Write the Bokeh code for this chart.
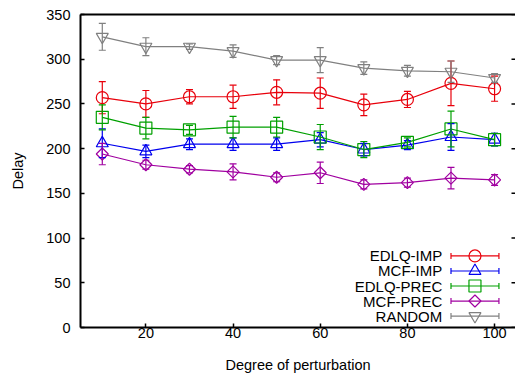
import math
from bokeh.plotting import figure
from bokeh.models import Range1d, LinearAxis, FixedTicker, Whisker, TeeHead, ColumnDataSource
from bokeh.embed import file_html
from bokeh.resources import INLINE
from bokeh.core.properties import value

# ---------------- data ----------------
x_values = [10, 20, 30, 40, 50, 60, 70, 80, 90, 100]
x_ticks = [20, 40, 60, 80, 100]
y_ticks = [0, 50, 100, 150, 200, 250, 300, 350]

series_names = ["EDLQ-IMP", "MCF-IMP", "EDLQ-PREC", "MCF-PREC", "RANDOM"]

edlq_imp = [257, 250, 258, 258, 263, 262, 249, 255, 273, 267]
edlq_imp_err = [18, 15, 8, 13, 14, 17, 12, 9, 25, 14]

mcf_imp = [206, 197, 205, 205, 205, 210, 199, 204, 213, 210]
mcf_imp_err = [16, 7, 6, 7, 7, 8, 7, 5, 15, 7]

edlq_prec = [235, 223, 221, 224, 224, 213, 199, 207, 222, 210]
edlq_prec_err = [14, 12, 5, 12, 11, 14, 9, 5, 20, 7]

mcf_prec = [194, 182, 177, 174, 168, 173, 160, 162, 167, 165]
mcf_prec_err = [12, 5, 4, 9, 5, 12, 5, 5, 12, 6]

random_vals = [325, 314, 314, 309, 299, 299, 290, 287, 286, 279]
random_err = [15, 10, 3, 7, 5, 14, 7, 6, 12, 5]

series_values = [edlq_imp, mcf_imp, edlq_prec, mcf_prec, random_vals]
series_errors = [edlq_imp_err, mcf_imp_err, edlq_prec_err, mcf_prec_err, random_err]
series_colors = ["#e8000b", "#0000ee", "#00a000", "#a000a0", "#808080"]
# the diamond is a square turned by 45 degrees, as gnuplot draws it
series_markers = ["circle", "triangle", "square", "square", "inverted_triangle"]
marker_angles = [0, 0, 0, math.pi / 4, 0]
marker_sizes = [12, 12, 12, 8.5, 12]

FONT = "Liberation Sans"
FS = "14.5px"

p = figure(width=515, height=379, output_backend="svg", toolbar_location=None,
           x_range=Range1d(5, 104.8), y_range=Range1d(0, 350),
           min_border_left=80, min_border_right=0, min_border_top=14, min_border_bottom=52,
           x_axis_label="Degree of perturbation", y_axis_label="Delay")
p.grid.visible = False
p.outline_line_color = None
p.background_fill_color = "white"
p.border_fill_color = "white"

for ax in (p.xaxis[0], p.yaxis[0]):
    ax.axis_line_width = 2
    ax.axis_line_color = "black"
    ax.major_tick_in = 4
    ax.major_tick_out = 0
    ax.major_tick_line_width = 1.5
    ax.minor_tick_in = 0
    ax.minor_tick_out = 0
    ax.major_label_text_font = FONT
    ax.major_label_text_font_size = FS
    ax.major_label_text_color = "black"
    ax.axis_label_text_font = FONT
    ax.axis_label_text_font_size = FS
    ax.axis_label_text_font_style = "normal"
    ax.axis_label_text_color = "black"

p.xaxis[0].ticker = FixedTicker(ticks=x_ticks)
p.yaxis[0].ticker = FixedTicker(ticks=y_ticks)
p.xaxis[0].major_label_standoff = 0
p.xaxis[0].axis_label_standoff = 16
p.yaxis[0].major_label_standoff = 10
p.yaxis[0].axis_label_standoff = 17

top_axis = LinearAxis(ticker=FixedTicker(ticks=[]),
                      major_tick_in=0, major_tick_out=0, minor_tick_in=0, minor_tick_out=0,
                      major_label_standoff=0, axis_line_width=2, axis_line_color="black")
p.add_layout(top_axis, "above")

# mirrored inward ticks on the right-hand side (no border line, no labels)
p.rect(x=[p.x_range.end] * len(y_ticks), y=y_ticks, width=8, height=1.5,
       width_units="screen", height_units="screen",
       fill_color="black", line_color=None)

for name, vals, errs, col, mk, ma, ms in zip(series_names, series_values, series_errors,
                                              series_colors, series_markers, marker_angles,
                                              marker_sizes):
    src = ColumnDataSource(dict(x=x_values, y=vals,
                                upper=[v + e for v, e in zip(vals, errs)],
                                lower=[v - e for v, e in zip(vals, errs)]))
    p.line("x", "y", source=src, line_color=col, line_width=1.2)
    w = Whisker(source=src, base="x", upper="upper", lower="lower",
                line_color=col, line_width=1.2, level="glyph",
                upper_head=TeeHead(size=7, line_color=col, line_width=1.2),
                lower_head=TeeHead(size=7, line_color=col, line_width=1.2))
    p.add_layout(w)
    p.scatter("x", "y", source=src, marker=mk, size=ms, angle=ma, fill_color=None,
              line_color=col, line_width=1.2)

# ---------------- legend (gnuplot style: text then sample) ----------------
legend_top = 80
legend_step = 16.8
legend_text_x = 88
legend_x0, legend_x1, legend_xm = 90, 101, 95.5
for i, (name, col, mk, ma, ms) in enumerate(zip(series_names, series_colors, series_markers,
                                                 marker_angles, marker_sizes)):
    ry = legend_top - i * legend_step
    p.text(x=[legend_text_x], y=[ry], text=[name], text_align="right", text_baseline="middle",
           text_font=value(FONT), text_font_size="15px", text_color="black")
    lsrc = ColumnDataSource(dict(base=[ry], lower=[legend_x0], upper=[legend_x1]))
    p.add_layout(Whisker(source=lsrc, base="base", lower="lower", upper="upper", dimension="width",
                         line_color=col, line_width=1.2, level="glyph",
                         upper_head=TeeHead(size=6, line_color=col, line_width=1.2),
                         lower_head=TeeHead(size=6, line_color=col, line_width=1.2)))
    p.scatter(x=[legend_xm], y=[ry], marker=mk, size=ms, angle=ma, fill_color=None,
              line_color=col, line_width=1.2)

open("out.html", "w").write(file_html(p, INLINE))
